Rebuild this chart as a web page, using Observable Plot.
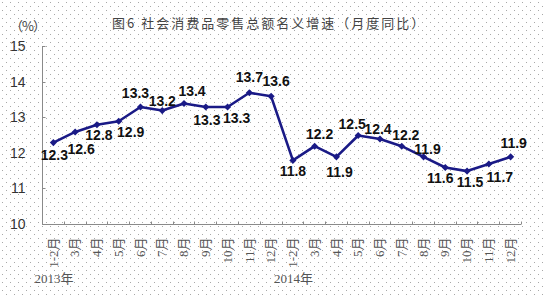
<!DOCTYPE html>
<html><head><meta charset="utf-8">
<script src="https://cdn.jsdelivr.net/npm/d3@7"></script>
<script src="https://cdn.jsdelivr.net/npm/@observablehq/plot@0.6"></script>
<style>
html,body{margin:0;padding:0;background:#fff;}
body{width:543px;height:296px;position:relative;overflow:hidden;}
#title{position:absolute;left:112px;top:13px;font:13px "Noto Sans CJK SC";letter-spacing:2px;color:#444;white-space:nowrap;z-index:2}
#unit{position:absolute;left:10px;top:16px;font:13px "Noto Sans CJK SC";color:#444;z-index:2;letter-spacing:-1px}
#chart{position:absolute;left:0;top:0;z-index:1}
</style>
</head><body>
<div id="title">图6 社会消费品零售总额名义增速（月度同比）</div>
<div id="unit">（%）</div>
<div id="chart"></div>
<script>
const months = ["1-2月","3月","4月","5月","6月","7月","8月","9月","10月","11月","12月"];
const years = ["2013年","2014年"];
const values2013 = [12.3,12.6,12.8,12.9,13.3,13.2,13.4,13.3,13.3,13.7,13.6];
const values2014 = [11.8,12.2,11.9,12.5,12.4,12.2,11.9,11.6,11.5,11.7,11.9];
const yTicks = [10,11,12,13,14,15];

// label placement (pixel offsets from each point), layout only
const labelOffsets = [[1,13],[6,18],[2,11],[12,11],[-5,-14],[0,-9],[8,-12],[1,13],[9,11],[0,-15],[5,-15],
                      [0,11],[5,-12],[3,16],[-6,-11],[-2,-10],[4,-11],[4,-7],[-5,11],[3,11],[11,14],[3,-13]];

const values = values2013.concat(values2014);
const data = values.map((v, i) => ({i, v, month: months[i % months.length]}));
const yearData = years.map((y, k) => ({i: k * months.length, label: y}));
const n = data.length;
const navy = "#1a1a86";
const axisColor = "#8a8a8a";

// dotted paper background (decoration)
const dottedBackground = (index, scales, values, dimensions) => {
  const W = dimensions.width, H = dimensions.height;
  const g = d3.create("svg:g").attr("fill", "#a8a8a8");
  let path = "";
  for (let yy = 2; yy < H; yy += 4) {
    const off = ((yy - 2) / 4) % 2 === 0 ? 2 : 6;
    for (let xx = off; xx < W; xx += 8) path += `M${xx},${yy}h1v1h-1z`;
  }
  g.append("path").attr("d", path).attr("shape-rendering", "crispEdges");
  return g.node();
};

const tickMarks = (index, scales) => {
  const {x, y} = scales;
  const g = d3.create("svg:g").attr("stroke", axisColor).attr("stroke-width", 1).attr("transform", "translate(0.5,0.5)");
  const x0 = Math.round(x(-0.5));
  for (const t of yTicks) {
    const yy = Math.round(y(t));
    g.append("line").attr("x1", x0).attr("x2", x0 + 3).attr("y1", yy).attr("y2", yy);
  }
  const y0 = Math.round(y(10));
  for (let b = 0; b < n; b++) {
    const xx = Math.round(x(b + 0.5));
    g.append("line").attr("x1", xx).attr("x2", xx).attr("y1", y0).attr("y2", y0 - 3);
  }
  return g.node();
};

const labelMarks = data.map((d, k) => Plot.text([d], {
  x: "i", y: "v", text: e => e.v.toFixed(1),
  dx: labelOffsets[k][0], dy: labelOffsets[k][1],
  fontSize: 14, fontWeight: "bold", fontFamily: "Liberation Sans, Arial, sans-serif", fill: "#111"
}));

const chart = Plot.plot({
  width: 543, height: 296,
  marginLeft: 42, marginRight: 22, marginTop: 46, marginBottom: 72,
  style: {background: "transparent", overflow: "visible"},
  x: {type: "linear", domain: [-0.5, n - 0.5], axis: null},
  y: {domain: [10, 15], axis: null},
  marks: [
    dottedBackground,
    Plot.ruleY([10], {stroke: axisColor}),
    Plot.ruleX([-0.5], {stroke: axisColor}),
    tickMarks,
    Plot.axisY(yTicks, {tickSize: 0, tickPadding: 17, fontSize: 14, fontFamily: "Liberation Sans, Arial, sans-serif", fill: "#333", label: null}),
    Plot.axisX(d3.range(n), {tickSize: 0, tickPadding: 13, tickRotate: -90, tickFormat: i => months[i % months.length],
      fontSize: 13, fontFamily: "Liberation Serif, Noto Sans CJK SC, serif", fill: "#555", label: null}),
    Plot.text(yearData, {x: "i", frameAnchor: "bottom", dy: 58, dx: -19, textAnchor: "start", text: "label",
      fontSize: 13, fontFamily: "Liberation Serif, Noto Sans CJK SC, serif", fill: "#555"}),
    Plot.line(data, {x: "i", y: "v", stroke: navy, strokeWidth: 2.6}),
    Plot.dot(data, {x: "i", y: "v", symbol: "diamond2", fill: navy, r: 3.2}),
    ...labelMarks
  ]
});
document.getElementById("chart").appendChild(chart);
</script>
</body></html>
